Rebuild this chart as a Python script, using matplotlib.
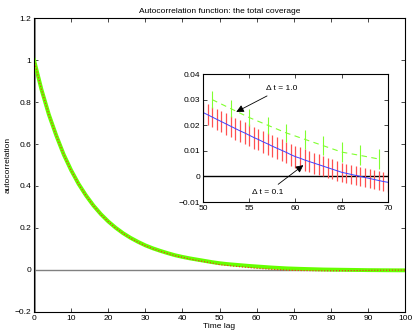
import numpy as np
import matplotlib.pyplot as plt
from matplotlib.ticker import FuncFormatter

plt.rcParams['font.family'] = ['Liberation Sans', 'DejaVu Sans']
plt.rcParams['font.size'] = 6

# main curves, lag 0..100 step 2
lag_main = list(range(0, 101, 2))
acf_dt10 = [1.0, 0.86, 0.74, 0.64, 0.55, 0.475, 0.41, 0.355, 0.307, 0.266,
            0.231, 0.201, 0.175, 0.153, 0.134, 0.117, 0.103, 0.091, 0.080, 0.070,
            0.062, 0.055, 0.049, 0.043, 0.037, 0.032, 0.028, 0.025, 0.022, 0.019,
            0.0165, 0.014, 0.0115, 0.0095, 0.0075, 0.0062, 0.005, 0.004, 0.003, 0.002,
            0.0015, 0.001, 0.0005, 0.0, -0.0005, -0.001, -0.0012, -0.0015, -0.0017, -0.0019,
            -0.002]
acf_dt01 = [1.0, 0.86, 0.74, 0.64, 0.55, 0.474, 0.409, 0.354, 0.306, 0.265,
            0.230, 0.200, 0.174, 0.151, 0.132, 0.115, 0.101, 0.089, 0.078, 0.068,
            0.060, 0.052, 0.045, 0.039, 0.033, 0.025, 0.0214, 0.0178, 0.0144, 0.0110,
            0.0077, 0.0052, 0.0028, 0.0008, -0.0008, -0.0023, -0.003, -0.0035, -0.0038, -0.004,
            -0.004, -0.0038, -0.0035, -0.003, -0.0026, -0.0022, -0.0018, -0.0015, -0.0012, -0.001,
            -0.001]

# inset: dt = 0.1 with error bars, lag 50..70 step 0.5
lag_fine = list(np.arange(50, 70.01, 0.5))
acf_fine = [0.0250, 0.0241, 0.0232, 0.0223, 0.0214, 0.0205, 0.0196, 0.0187, 0.0178, 0.0170,
            0.0161, 0.0152, 0.0144, 0.0135, 0.0127, 0.0118, 0.0110, 0.0102, 0.0094, 0.0085,
            0.0077, 0.0071, 0.0064, 0.0058, 0.0052, 0.0046, 0.0040, 0.0034, 0.0028, 0.0022,
            0.0016, 0.0012, 0.0008, 0.0004, 0.0000, -0.0004, -0.0008, -0.0012, -0.0016, -0.0020,
            -0.0023]
err_fine = [0.0040, 0.0041, 0.0040, 0.0042, 0.0041, 0.0042, 0.0041, 0.0043, 0.0042, 0.0043,
            0.0042, 0.0043, 0.0042, 0.0043, 0.0042, 0.0043, 0.0043, 0.0043, 0.0042, 0.0043,
            0.0043, 0.0042, 0.0042, 0.0041, 0.0041, 0.0040, 0.0040, 0.0039, 0.0039, 0.0038,
            0.0038, 0.0038, 0.0037, 0.0037, 0.0037, 0.0036, 0.0036, 0.0036, 0.0036, 0.0036,
            0.0036]

# inset: dt = 1.0 with error bars, odd lags
lag_coarse = [51, 53, 55, 57, 59, 61, 63, 65, 67, 69]
acf_coarse = [0.030, 0.0265, 0.023, 0.020, 0.017, 0.0145, 0.012, 0.0095, 0.0082, 0.0068]
err_coarse = [0.0033, 0.0033, 0.0033, 0.0034, 0.0035, 0.0036, 0.0037, 0.0038, 0.0039, 0.0040]


def fmt(v, pos):
    return ('%g' % round(v, 4)).replace('-', '\u2212')


fig = plt.figure(figsize=(4.15, 3.35), dpi=100)
ax = fig.add_axes([0.082, 0.069, 0.894, 0.877])
ax.axhline(0, color='#808080', lw=1)
ax.axvline(0, color='#808080', lw=2)
ax.plot(lag_main, acf_dt10, color='#66ff00', lw=2.8)
ax.plot(lag_main, acf_dt01, color='#ff2020', lw=0.8, ls=':')
ax.set_xlim(0, 100)
ax.set_ylim(-0.2, 1.2)
ax.set_xticks(range(0, 101, 10))
ax.set_yticks(np.arange(-0.2, 1.21, 0.2))
ax.xaxis.set_major_formatter(FuncFormatter(fmt))
ax.yaxis.set_major_formatter(FuncFormatter(fmt))
ax.tick_params(direction='in', top=True, right=True, length=3, width=0.5, pad=2)
ax.set_title('Autocorrelation function: the total coverage', fontsize=6, pad=4)
ax.set_xlabel('Time lag', labelpad=1)
ax.set_ylabel('autocorrelation', labelpad=2)

ins = fig.add_axes([0.489, 0.397, 0.446, 0.382])
ins.axhline(0, color='k', lw=1)
ins.errorbar(lag_fine, acf_fine, yerr=err_fine, color='#4040ff', lw=0.7,
             ecolor='#ff5050', elinewidth=0.9, capsize=0)
ins.errorbar(lag_coarse, acf_coarse, yerr=err_coarse, color='#80ff30', lw=0.8,
             ls='--', dashes=(5, 4), elinewidth=0.8, capsize=0)
ins.set_xlim(50, 70)
ins.set_ylim(-0.01, 0.04)
ins.set_xticks(range(50, 71, 5))
ins.set_yticks(np.arange(-0.01, 0.041, 0.01))
ins.xaxis.set_major_formatter(FuncFormatter(fmt))
ins.yaxis.set_major_formatter(FuncFormatter(fmt))
ins.tick_params(direction='in', top=True, right=True, length=3, width=0.5, pad=2)

arrow = dict(arrowstyle='-|>', color='k', lw=0.6, mutation_scale=11, shrinkB=0)
ins.annotate('\u0394 t = 1.0', xy=(53.6, 0.0252), xytext=(58.5, 0.0344),
             ha='center', va='center', arrowprops=arrow)
ins.annotate('\u0394 t = 0.1', xy=(60.85, 0.0044), xytext=(57.0, -0.0062),
             ha='center', va='center', arrowprops=arrow)

fig.savefig('out.png', dpi=100)
